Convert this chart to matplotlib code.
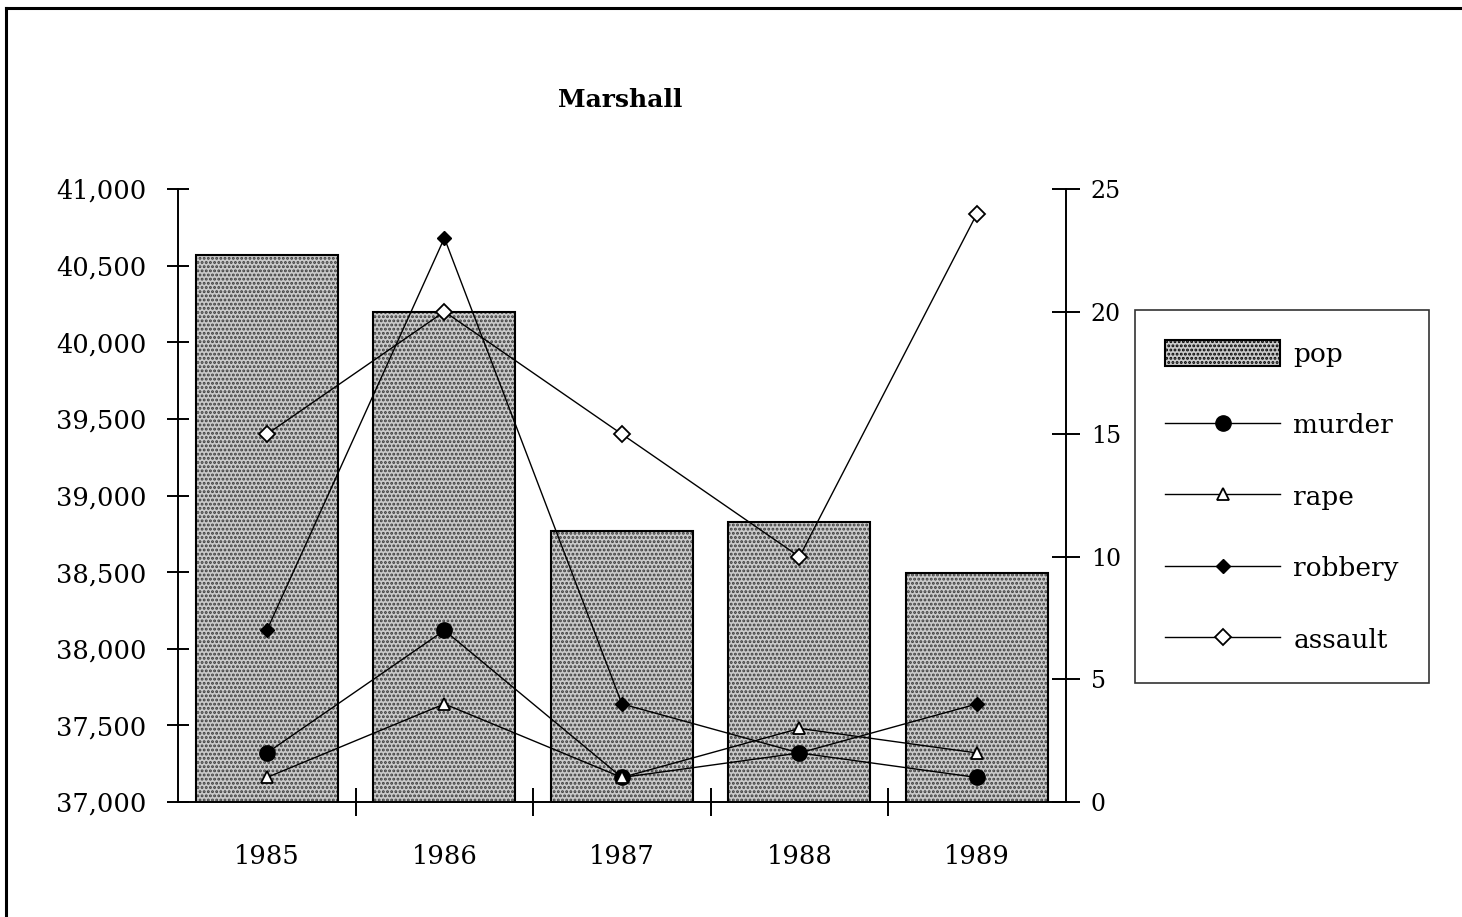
import matplotlib
matplotlib.use('Agg')
import matplotlib.pyplot as plt
from matplotlib.lines import Line2D
from matplotlib.ticker import FuncFormatter

# data
years = ['1985', '1986', '1987', '1988', '1989']
pop = [40570, 40195, 38770, 38830, 38495]
murder = [2, 7, 1, 2, 1]
rape = [1, 4, 1, 3, 2]
robbery = [7, 23, 4, 2, 4]
assault = [15, 20, 15, 10, 24]

plt.rcParams['font.family'] = ['DejaVu Serif']
plt.rcParams['hatch.linewidth'] = 1.4

fig = plt.figure(figsize=(14.62, 9.17), dpi=100)
ax = fig.add_axes([0.1218, 0.1254, 0.6072, 0.6685])
ax2 = ax.twinx()

x = list(range(len(years)))
BAR_FILL = '#cacaca'
DOTS = '#3c3c3c'

# population bars (dotted grey fill + black outline)
ax.bar(x, pop, width=0.8, color=BAR_FILL, edgecolor=DOTS, hatch='....',
       linewidth=0, zorder=1)
bars = ax.bar(x, pop, width=0.8, fill=False, edgecolor='black', linewidth=1.5, zorder=2)
ax.set_ylim(37000, 41000)
ax.set_xlim(-0.5, 4.5)
ax.set_yticks(range(37000, 41001, 500))
ax.yaxis.set_major_formatter(FuncFormatter(lambda v, p: f'{int(v):,}'))

# crime lines on right axis
l1, = ax2.plot(x, murder, color='black', lw=1, marker='o', ms=11, mfc='black', mec='black')
l2, = ax2.plot(x, rape, color='black', lw=1, marker='^', ms=9, mfc='white', mec='black', mew=1.3)
l3, = ax2.plot(x, robbery, color='black', lw=1, marker='D', ms=7, mfc='black', mec='black')
l4, = ax2.plot(x, assault, color='black', lw=1, marker='D', ms=8, mfc='white', mec='black', mew=1.3)
ax2.set_ylim(0, 25)
ax2.set_yticks(range(0, 26, 5))

# axes styling
for a in (ax, ax2):
    a.spines['top'].set_visible(False)
    a.patch.set_visible(False)
ax.spines['right'].set_visible(False)
ax2.spines['left'].set_visible(False)
ax2.spines['bottom'].set_visible(False)
for s in ['left', 'bottom']:
    ax.spines[s].set_linewidth(1.4)
ax2.spines['right'].set_linewidth(1.4)

ax.set_xticks([i + 0.5 for i in range(4)])
ax.set_xticklabels([])
ax.set_xticks(x, minor=True)
ax.set_xticklabels(years, minor=True)
ax.tick_params(axis='x', which='major', direction='inout', length=20, width=1.4)
ax.tick_params(axis='x', which='minor', length=0, pad=30, labelsize=18.5)
ax.tick_params(axis='y', direction='inout', length=16, width=1.4, labelsize=18.5, pad=15)
ax2.tick_params(axis='y', direction='inout', length=20, width=1.4, labelsize=17, pad=8)

fig.text(0.424, 0.891, 'Marshall', ha='center', va='center', fontsize=18,
         fontweight='bold')

leg = fig.legend([bars, l1, l2, l3, l4], ['pop', 'murder', 'rape', 'robbery', 'assault'],
                 loc='upper left', bbox_to_anchor=(0.7763, 0.662), borderaxespad=0,
                 fontsize=19, frameon=True, fancybox=False, edgecolor='black',
                 handlelength=4.35, handleheight=1.1, labelspacing=1.7,
                 borderpad=1.15, handletextpad=0.5)
leg.get_frame().set_linewidth(1.2)
# legend pop patch with the dotted look
leg.legend_handles[0].set_facecolor(BAR_FILL)
leg.legend_handles[0].set_hatch('....')
leg.legend_handles[0].set_fill(True)

# page frame (left and top edges only)
fig.add_artist(Line2D([0.0043, 0.0043], [0.0, 0.9915], transform=fig.transFigure,
                      color='black', lw=2.2))
fig.add_artist(Line2D([0.0043, 1.0], [0.9915, 0.9915], transform=fig.transFigure,
                      color='black', lw=2.2))

fig.savefig('out.png', dpi=100)
